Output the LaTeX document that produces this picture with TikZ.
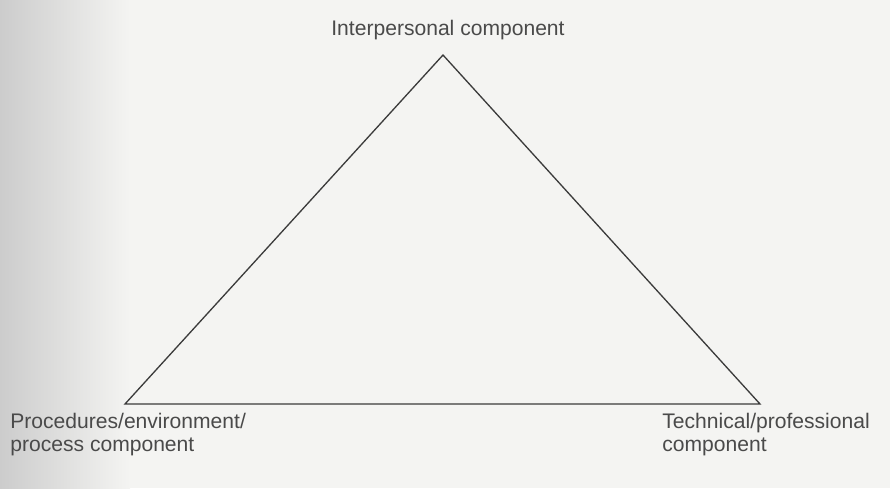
\documentclass[tikz,border=0pt]{standalone}
\usepackage{fontspec}
\setmainfont{Liberation Sans}
\usepackage{xcolor}
\usetikzlibrary{positioning}

\definecolor{inkgray}{HTML}{4A4A4A}
\definecolor{paper}{HTML}{F4F4F2}

\begin{document}
\begin{tikzpicture}[
x=0.02cm, y=-0.02cm,
label/.style={inner sep=0pt, align=left, text=inkgray, font=\fontsize{12}{12.8}\selectfont},
edge/.style={draw=inkgray!80!black, line width=0.75pt, line join=miter}
]

% page and the faded left margin of the scan
\fill[paper] (0,0) rectangle (890,488);
\shade[left color=gray!40, right color=paper] (0,0) rectangle (130,488);
\useasboundingbox (0,0) rectangle (890,488);

\coordinate (top) at (443,55);
\coordinate (left) at (125,404);
\coordinate (right) at (760,404);

\node[label] (inter) at (448,30) {Interpersonal component};
\node[label, anchor=north west] (proc) at (10,413) {Procedures/environment/\\process component};
\node[label, anchor=north west] (tech) at (662,413) {Technical/professional\\component};

\draw[edge] (top) -- (right) -- (left) -- cycle;

\end{tikzpicture}
\end{document}
